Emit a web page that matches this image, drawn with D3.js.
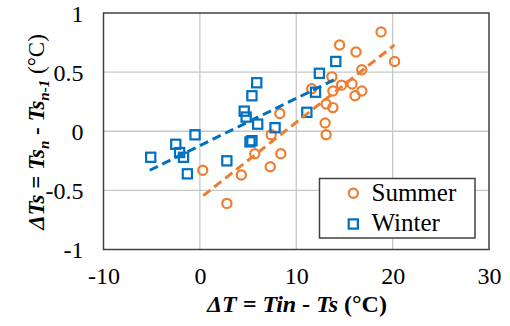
<!DOCTYPE html>
<html><head><meta charset="utf-8">
<script src="https://cdn.jsdelivr.net/npm/d3@7"></script>
<style>body{margin:0;background:#fff}svg{display:block}</style>
</head><body>
<script>
const xTicks = [-10, 0, 10, 20, 30];
const xTickLabels = ["-10", "0", "10", "20", "30"];
const yTicks = [-1, -0.5, 0, 0.5, 1];
const yTickLabels = ["-1", "-0.5", "0", "0.5", "1"];
const seriesNames = ["Summer", "Winter"];
const summerX = [0.3, 2.8, 4.3, 5.7, 7.3, 8.4, 7.4, 8.3, 11.6, 13.0, 13.1, 13.1, 13.8, 13.8, 13.7, 14.7, 15.8, 16.1, 16.8, 16.8, 14.5, 16.2, 18.8, 20.2];
const summerY = [-0.33, -0.61, -0.37, -0.19, -0.30, -0.19, -0.03, 0.15, 0.36, 0.07, -0.03, 0.23, 0.20, 0.34, 0.46, 0.39, 0.40, 0.30, 0.34, 0.52, 0.73, 0.67, 0.84, 0.59];
const winterX = [-5.1, -2.5, -2.1, -1.7, -1.3, -0.5, 2.8, 4.6, 4.8, 5.4, 5.9, 6.0, 5.4, 5.2, 7.8, 11.1, 12.0, 12.4, 14.1];
const winterY = [-0.22, -0.11, -0.18, -0.22, -0.36, -0.03, -0.25, 0.17, 0.12, 0.30, 0.41, 0.06, -0.08, -0.09, 0.03, 0.16, 0.33, 0.49, 0.59];
// linear trendlines [slope, intercept, xStart, xEnd]
const summerTrend = [0.0642, -0.567, 0.35, 20.2];
const winterTrend = [0.040, -0.122, -5.2, 14.2];

const W = 510, H = 326;
const FONT = "'Liberation Serif', 'Times New Roman', serif";
const orange = "#ED7D31", blue = "#0070C0";
const svg = d3.select("body").append("svg").attr("width", W).attr("height", H)
  .attr("font-family", FONT);
const x = d3.scaleLinear().domain([-10, 30]).range([103.5, 489]);
const y = d3.scaleLinear().domain([-1, 1]).range([249.5, 13]);

// gridlines
svg.append("g").selectAll("line").data(xTicks.slice(1, -1)).join("line")
  .attr("x1", d => x(d)).attr("x2", d => x(d)).attr("y1", y(1)).attr("y2", y(-1))
  .attr("stroke", "#c8c8c8").attr("stroke-width", 1.3);
svg.append("g").selectAll("line").data(yTicks.slice(1, -1)).join("line")
  .attr("y1", d => y(d)).attr("y2", d => y(d)).attr("x1", x(-10)).attr("x2", x(30))
  .attr("stroke", "#c8c8c8").attr("stroke-width", 1.3);

// axes (labels only)
const xAxis = d3.axisBottom(x).tickValues(xTicks).tickSize(0).tickPadding(0).tickFormat((d, i) => xTickLabels[i]);
const gx = svg.append("g").attr("transform", `translate(0,${y(-1)})`).call(xAxis)
  .attr("font-family", FONT).attr("font-size", 24);
gx.select(".domain").remove();
gx.selectAll("text").attr("fill", "#000").attr("dy", null).attr("y", 34.5)
  .attr("font-family", FONT).style("font-family", FONT);
const yAxis = d3.axisLeft(y).tickValues(yTicks).tickSize(0).tickPadding(0).tickFormat((d, i) => yTickLabels[i]);
const gy = svg.append("g").attr("transform", `translate(${x(-10)},0)`).call(yAxis)
  .attr("font-family", FONT).attr("font-size", 24);
gy.select(".domain").remove();
gy.selectAll("text").attr("fill", "#000").attr("x", -20).attr("dy", "0.34em")
  .attr("font-family", FONT).style("font-family", FONT);

// border
svg.append("rect").attr("x", x(-10)).attr("y", y(1)).attr("width", x(30) - x(-10)).attr("height", y(-1) - y(1))
  .attr("fill", "none").attr("stroke", "#404040").attr("stroke-width", 1.5);

const plot = svg.append("g");
const summer = summerX.map((v, i) => [v, summerY[i]]);
const winter = winterX.map((v, i) => [v, winterY[i]]);
plot.selectAll("circle.s").data(summer).join("circle").attr("class", "s")
  .attr("cx", d => x(d[0])).attr("cy", d => y(d[1])).attr("r", 4.6)
  .attr("fill", "none").attr("stroke", orange).attr("stroke-width", 2.2);
plot.selectAll("rect.w").data(winter).join("rect").attr("class", "w")
  .attr("x", d => x(d[0]) - 4.6).attr("y", d => y(d[1]) - 4.6).attr("width", 9.2).attr("height", 9.2)
  .attr("fill", "none").attr("stroke", blue).attr("stroke-width", 2.2);

function trend(t, color) {
  const pts = [t[2], t[3]].map(v => [x(v), y(t[0] * v + t[1])]);
  plot.append("path").attr("d", d3.line()(pts)).attr("stroke", color).attr("stroke-width", 3)
    .attr("stroke-dasharray", "9,5").attr("fill", "none");
}
trend(summerTrend, orange);
trend(winterTrend, blue);

// legend
const lg = svg.append("g");
lg.append("rect").attr("x", 319.5).attr("y", 178.5).attr("width", 155.5).attr("height", 59.5)
  .attr("fill", "#fff").attr("stroke", "#404040").attr("stroke-width", 1.5);
lg.append("circle").attr("cx", 353.3).attr("cy", 193.3).attr("r", 4.6).attr("fill", "none").attr("stroke", orange).attr("stroke-width", 2.2);
lg.append("rect").attr("x", 353.3 - 4.6).attr("y", 224 - 4.6).attr("width", 9.2).attr("height", 9.2).attr("fill", "none").attr("stroke", blue).attr("stroke-width", 2.2);
lg.append("text").attr("x", 371.5).attr("y", 201).attr("font-size", 25).text(seriesNames[0]);
lg.append("text").attr("x", 371.5).attr("y", 231).attr("font-size", 25).text(seriesNames[1]);

// axis titles
const xt = svg.append("text").attr("x", 297).attr("y", 312).attr("text-anchor", "middle").attr("font-size", 24).attr("font-weight", "bold");
xt.append("tspan").attr("font-style", "italic").text("ΔT = Tin - Ts ");
xt.append("tspan").text("(°C)");

const yt = svg.append("text").attr("transform", "translate(44,132) rotate(-90)").attr("text-anchor", "middle").attr("font-size", 23);
yt.append("tspan").attr("font-weight", "bold").attr("font-style", "italic").text("ΔTs");
yt.append("tspan").attr("font-weight", "bold").text(" = ");
yt.append("tspan").attr("font-weight", "bold").attr("font-style", "italic").text("Ts");
yt.append("tspan").attr("font-weight", "bold").attr("font-style", "italic").attr("font-size", 15).attr("dy", 5).text("n");
yt.append("tspan").attr("font-weight", "bold").attr("dy", -5).text(" - ");
yt.append("tspan").attr("font-weight", "bold").attr("font-style", "italic").text("Ts");
yt.append("tspan").attr("font-weight", "bold").attr("font-style", "italic").attr("font-size", 15).attr("dy", 5).text("n-1");
yt.append("tspan").attr("dy", -5).text(" (°C)");
</script>
</body></html>
